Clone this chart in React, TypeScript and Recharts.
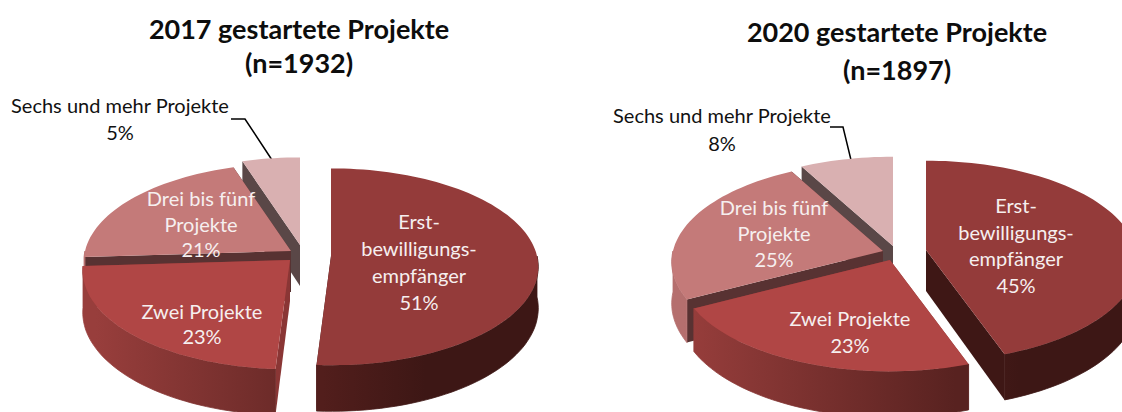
import { Pie, PieChart } from "recharts";

const categories = ["Sechs und mehr Projekte", "Drei bis fünf Projekte", "Zwei Projekte", "Erstbewilligungsempfänger"];
const values2017 = [5, 21, 23, 51];
const values2020 = [8, 25, 23, 45];

const wrappedNames = [
  ["Sechs und mehr Projekte"],
  ["Drei bis fünf", "Projekte"],
  ["Zwei Projekte"],
  ["Erst-", "bewilligungs-", "empfänger"],
];

const FONT = "Lato, 'Noto Sans', sans-serif";
const topColors = ["#d9b0b1", "#c47a79", "#b04645", "#943b3a"];
const cutColors = ["#5a4747", "#583232", "#8a3635", "#3e1715"];
const wallStops = [
  [["0", "#b5888a"], ["1", "#b5888a"]],
  [["0", "#b56f6e"], ["1", "#a86463"]],
  [["0", "#983e3c"], ["0.65", "#582220"], ["1", "#582220"]],
  [["0", "#5a2120"], ["0.55", "#521e1c"], ["0.8", "#3d1715"], ["1", "#3d1715"]],
];

// fake 3d: tilt of the disc, perspective strength, wall height
const TILT = 0.472;
const PERSPECTIVE = 0.11;
const DEPTH = 41;

type Layout = {
  id: string;
  left: number;
  cx: number;
  cy: number;
  rx: number;
  offsets: number[][];
  title: string[];
  titleX: number;
  titleY: number[];
  labelPos: number[][];
  lineGap: number[];
  leader: number[][];
};

const layout2017: Layout = {
  id: "a",
  left: 0,
  cx: 302,
  cy: 250,
  rx: 206,
  offsets: [[-2, -5], [-11, 1], [-12, 10], [29, 6]],
  title: ["2017 gestartete Projekte", "(n=1932)"],
  titleX: 299,
  titleY: [39, 73],
  labelPos: [[120, 113], [201, 206], [202, 319], [419, 229]],
  lineGap: [27, 25.5, 25, 27],
  leader: [[231, 119], [245, 119], [272, 160]],
};

const layout2020: Layout = {
  id: "b",
  left: 561,
  cx: 332,
  cy: 250,
  rx: 210,
  offsets: [[0, -4], [-10, 1], [-3, 10], [33, 0]],
  title: ["2020 gestartete Projekte", "(n=1897)"],
  titleX: 336,
  titleY: [42, 80],
  labelPos: [[161, 123], [213, 215], [289, 326], [455, 213]],
  lineGap: [28, 26, 27, 26.5],
  leader: [[269, 127], [282, 127], [290, 160]],
};

// point on the rim for clockwise degrees from 12 o'clock, [x, y, perspective scale]
function rim(cx: number, cy: number, rx: number, deg: number) {
  const t = (deg * Math.PI) / 180;
  const s = 1 / (1 + PERSPECTIVE * Math.cos(t));
  return [cx + rx * Math.sin(t) * s, cy - rx * TILT * Math.cos(t) * s, s];
}

function arcPoints(cx: number, cy: number, rx: number, from: number, to: number) {
  const n = Math.max(2, Math.ceil(Math.abs(to - from) / 2));
  const pts: number[][] = [];
  for (let i = 0; i <= n; i++) pts.push(rim(cx, cy, rx, from + ((to - from) * i) / n));
  return pts;
}

const toPath = (pts: number[][]) => "M" + pts.map((p) => `${p[0].toFixed(1)},${p[1].toFixed(1)}`).join("L") + "Z";
const drop = (p: number[]) => [p[0], p[1] + DEPTH * p[2]];

function makeSlice(cfg: Layout) {
  return function Slice(props: any) {
    const { startAngle, endAngle, cx, cy, outerRadius, index } = props;
    const [dx, dy] = cfg.offsets[index];
    const x = cx + dx;
    const y = cy + dy;
    // pie runs counter-clockwise here, turn into clockwise degrees from 12 o'clock
    let from = 90 - endAngle;
    let to = 90 - startAngle;
    if (from < 0) {
      from += 360;
      to += 360;
    }
    const top = [[x, y], ...arcPoints(x, y, outerRadius, from, to)];
    const apex = [x, y, 1];
    const cut = (p: number[]) => toPath([apex, p, drop(p), drop(apex)]);

    // only the near half of the rim has a visible wall
    const wFrom = Math.max(from, 90);
    const wTo = Math.min(to, 270);
    let wall = "";
    if (wTo > wFrom) {
      const arc = arcPoints(x, y, outerRadius, wFrom, wTo);
      wall = toPath([...arc, ...arc.slice().reverse().map(drop)]);
    }
    const gid = `wall-${cfg.id}-${index}`;
    return (
      <g>
        <defs>
          <linearGradient id={gid} gradientUnits="userSpaceOnUse" x1={cx - outerRadius} x2={cx + outerRadius} y1={0} y2={0}>
            {wallStops[index].map((s) => (
              <stop key={s[0]} offset={s[0]} stopColor={s[1]} />
            ))}
          </linearGradient>
        </defs>
        <path d={cut(rim(x, y, outerRadius, from))} fill={cutColors[index]} />
        <path d={cut(rim(x, y, outerRadius, to))} fill={cutColors[index]} />
        {wall && <path d={wall} fill={`url(#${gid})`} stroke={`url(#${gid})`} strokeWidth={0.8} />}
        <path d={toPath(top)} fill={topColors[index]} />
      </g>
    );
  };
}

function makeLabel(cfg: Layout) {
  return function SliceLabel(props: any) {
    const { index, value } = props;
    const [lx, ly] = cfg.labelPos[index];
    const lines = [...wrappedNames[index], `${value}%`];
    const outside = index === 0;
    return (
      <text x={lx} y={ly} textAnchor="middle" fontFamily={FONT} fontSize={20} fill={outside ? "#111111" : "#f6efef"}>
        {lines.map((line, i) => (
          <tspan key={i} x={lx} y={ly + i * cfg.lineGap[index]}>
            {line}
          </tspan>
        ))}
      </text>
    );
  };
}

function ProjectPie({ cfg, values }: { cfg: Layout; values: number[] }) {
  const data = categories.map((name, i) => ({ name, value: values[i] }));
  return (
    <div style={{ position: "absolute", left: cfg.left, top: 0, width: 561, height: 412, overflow: "hidden" }}>
      <PieChart width={561} height={412} margin={{ top: 0, right: 0, bottom: 0, left: 0 }}>
        <Pie
          data={data}
          dataKey="value"
          nameKey="name"
          cx={cfg.cx}
          cy={cfg.cy}
          innerRadius={0}
          outerRadius={cfg.rx}
          startAngle={90}
          endAngle={450}
          stroke="none"
          shape={makeSlice(cfg)}
          label={makeLabel(cfg)}
          labelLine={false}
          isAnimationActive={false}
        />
        {cfg.title.map((t, i) => (
          <text key={t} x={cfg.titleX} y={cfg.titleY[i]} textAnchor="middle" fontFamily={FONT} fontWeight={700} fontSize={27} fill="#0d0d0d">
            {t}
          </text>
        ))}
        <polyline points={cfg.leader.map((p) => p.join(",")).join(" ")} fill="none" stroke="#000000" strokeWidth={1.5} />
      </PieChart>
    </div>
  );
}

export default function App() {
  return (
    <div style={{ position: "absolute", left: 0, top: 0, width: 1122, height: 412, overflow: "hidden", background: "#ffffff" }}>
      <ProjectPie cfg={layout2017} values={values2017} />
      <ProjectPie cfg={layout2020} values={values2020} />
    </div>
  );
}
